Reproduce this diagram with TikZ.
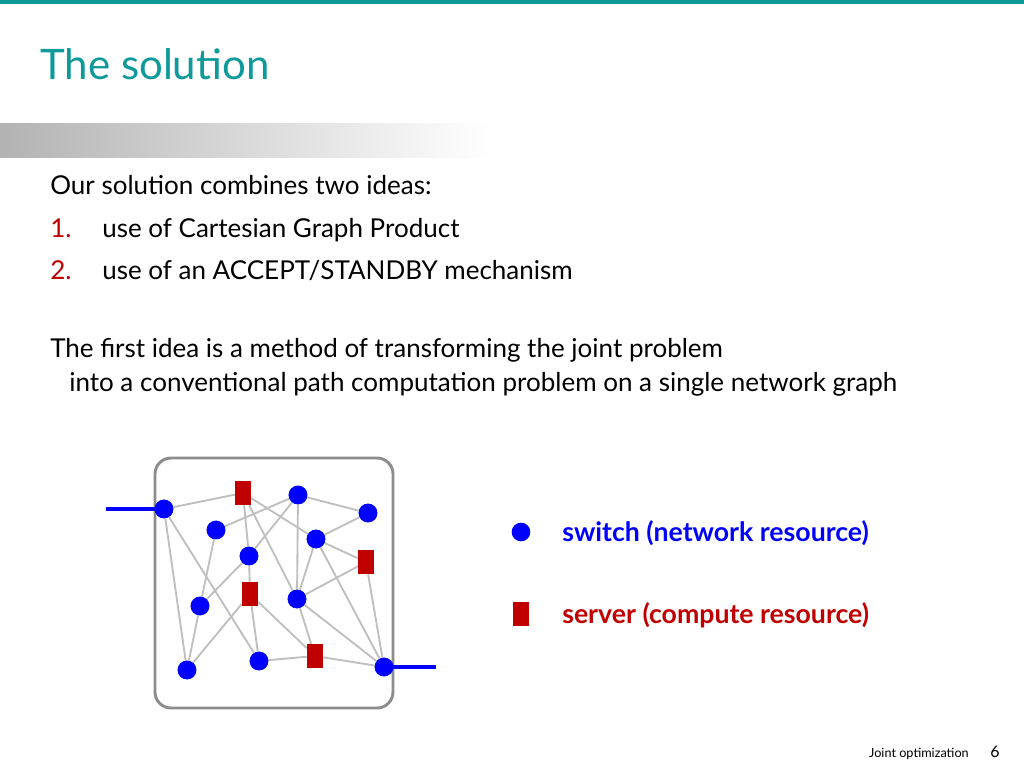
\documentclass[tikz,border=0pt]{standalone}
\usepackage{fontspec}
\setmainfont{Lato}
\usetikzlibrary{calc}
\definecolor{teal1}{HTML}{0E9A9A}
\definecolor{darkred}{HTML}{C00000}
\tikzset{
  sw/.style={circle, fill=blue, inner sep=0pt, minimum size=14pt},
  sv/.style={rectangle, fill=darkred, inner sep=0pt, minimum width=12pt, minimum height=18pt},
  ln/.style={draw=black!25, line width=1.4pt},
  txt/.style={anchor=base west, font=\fontsize{19.5}{23}\selectfont, inner sep=0pt},
  leg/.style={anchor=base west, inner sep=0pt, font=\bfseries\fontsize{20}{24}\selectfont}
}
\begin{document}
\begin{tikzpicture}[x=0.75pt, y=-0.75pt]
				\useasboundingbox (0,0) rectangle (1024,768);
				\fill[teal1] (0,0) rectangle (1024,4);
				\shade[left color=black!30, right color=white] (0,123) rectangle (490,157);
				\node[anchor=base west, inner sep=0pt, text=teal1, font=\fontsize{31.5}{36}\selectfont] (title) at (40,79) {The solution};
				% body text
				\node[txt] (l0) at (50,194) {Our solution combines two ideas:};
				\node[txt, text=darkred] (n1) at (50,237) {1.};
				\node[txt] (l1) at (102,237) {use of Cartesian Graph Product};
				\node[txt, text=darkred] (n2) at (50,279) {2.};
				\node[txt] (l2) at (102,279) {use of an ACCEPT/STANDBY mechanism};
				\node[txt] (l3) at (50,357) {The first idea is a method of transforming the joint problem};
				\node[txt] (l4) at (69,391) {into a conventional path computation problem on a single network graph};
				% graph
				\draw[black!45, line width=2.2pt, rounded corners=12pt] (155,458) rectangle (393,708);
				\node[sw] (a) at (164,509) {};
				\node[sw] (b) at (216,530) {};
				\node[sw] (c) at (249,556) {};
				\node[sw] (d) at (200,606) {};
				\node[sw] (e) at (187,670) {};
				\node[sw] (f) at (259,661) {};
				\node[sw] (g) at (298,495) {};
				\node[sw] (h) at (316,539) {};
				\node[sw] (i) at (368,513) {};
				\node[sw] (j) at (297,599) {};
				\node[sw] (k) at (384,667) {};
				\node[sv] (s1) at (243,493) {};
				\node[sv] (s2) at (250,594) {};
				\node[sv] (s3) at (366,562) {};
				\node[sv] (s4) at (315,656) {};
				\foreach \u/\v in {a/s1,a/e,a/f,s1/c,s1/j,s1/h,b/g,b/d,c/g,c/d,e/d,e/s2,c/s2,s2/f,s2/s4,
				  g/i,g/j,h/i,h/s3,h/j,h/k,j/s3,j/s4,j/k,s3/k,f/s4,s4/k}
				  \draw[ln] (\u) -- (\v);
				% redraw nodes on top
				\foreach \n in {a,b,c,d,e,f,g,h,i,j,k} \fill[blue] (\n) circle (7pt);
				\foreach \n in {s1,s2,s3,s4} \fill[darkred] ($(\n)+(-8,-12)$) rectangle ($(\n)+(8,12)$);
				\coordinate (in) at (106,509);
				\coordinate (out) at (436,667);
				\draw[blue, line width=2.4pt] (in) -- (a.center);
				\draw[blue, line width=2.4pt] (k.center) -- (out);
				% legend
				\node[sw] (lsw) at (521,532) {};
				\node[sv] (lsv) at (521,614) {};
				\node[leg, text=blue] (t1) at (562,541) {switch (network resource)};
				\node[leg, text=darkred] (t2) at (562,623) {server (compute resource)};
				% footer
				\node[anchor=base east, inner sep=0pt, font=\fontsize{9.5}{11}\selectfont] (ft) at (969,757) {Joint optimization};
				\node[anchor=base east, inner sep=0pt, font=\fontsize{12}{14}\selectfont] (pg) at (1000,757) {6};
			\end{tikzpicture}
\end{document}
